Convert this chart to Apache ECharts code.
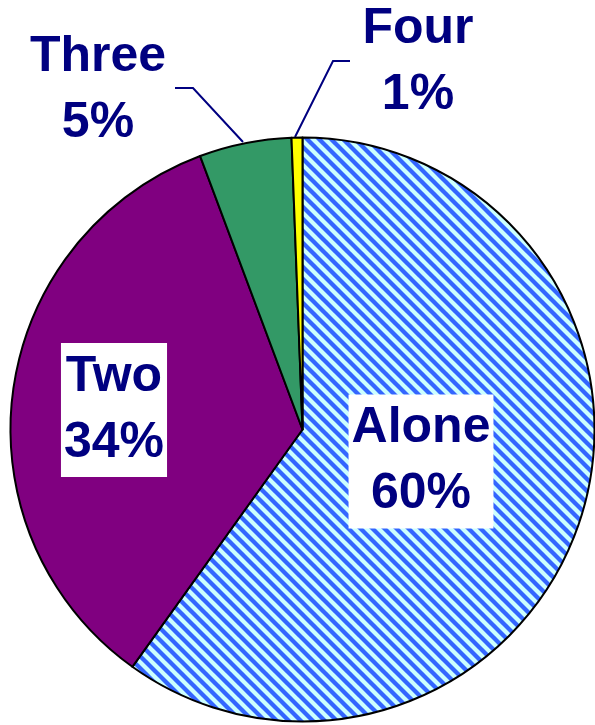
<!DOCTYPE html>
<html>
<head>
<meta charset="utf-8">
<script src="https://cdn.jsdelivr.net/npm/echarts@6/dist/echarts.min.js"></script>
<style>
html, body { margin: 0; padding: 0; background: #fff; }
#main { width: 595px; height: 725px; }
</style>
</head>
<body>
<div id="main"></div>
<script>
var names = ['Alone', 'Two', 'Three', 'Four'];
var values = [59.9, 34.4, 5.1, 0.6];
var colors = ['stripes', '#800080', '#339966', '#FFFF00'];

// striped fill for "Alone"
function stripeTile() {
	var c = document.createElement('canvas');
	c.width = 12; c.height = 12;
	var ctx = c.getContext('2d');
	ctx.fillStyle = '#CCFFFF';
	ctx.fillRect(0, 0, 12, 12);
	ctx.strokeStyle = '#3366FF';
	ctx.lineWidth = 4.3;
	for (var o = -12; o <= 12; o += 12) {
		ctx.beginPath();
		ctx.moveTo(o - 2, -2);
		ctx.lineTo(o + 14, 14);
		ctx.stroke();
	}
	return c;
}

// where the labels sit (centre of the text block)
var labelPos = [[421, 461.5], [114, 410], [98, 90], [418, 62]];
var leaderLines = {
	2: [[243, 142], [193, 88], [175, 88]],
	3: [[295, 137], [333, 61], [350, 61]]
};

var data = [];
for (var i = 0; i < names.length; i++) {
	var inside = i < 2;
	data.push({
		name: names[i],
		value: values[i],
		itemStyle: {
			color: colors[i] == 'stripes' ? { image: stripeTile(), repeat: 'repeat' } : colors[i]
		},
		label: {
			position: inside ? 'inside' : 'outside',
			backgroundColor: inside ? '#fff' : 'transparent',
			padding: inside ? [1, 3] : 0
		},
		labelLine: { show: !inside }
	});
}

var myChart = echarts.init(document.getElementById('main'));
var option = {
	animation: false,
	series: [{
		type: 'pie',
		center: [302.5, 429.5],
		radius: 292,
		startAngle: 90,
		clockwise: true,
		avoidLabelOverlap: false,
		data: data,
		itemStyle: { borderColor: '#000', borderWidth: 2 },
		label: {
			formatter: function (p) {
				return p.name + '\n' + Math.round(p.value) + '%';
			},
			fontFamily: 'Liberation Sans, Arial, sans-serif',
			fontWeight: 'bold',
			fontSize: 50,
			lineHeight: 66,
			color: '#000080',
			align: 'center'
		},
		labelLine: {
			lineStyle: { color: '#000080', width: 2 }
		},
		labelLayout: function (params) {
			var k = params.dataIndex;
			var r = {
				x: labelPos[k][0],
				y: labelPos[k][1],
				align: 'center',
				verticalAlign: 'middle'
			};
			if (leaderLines[k]) r.labelLinePoints = leaderLines[k];
			return r;
		}
	}]
};
myChart.setOption(option);
</script>
</body>
</html>
